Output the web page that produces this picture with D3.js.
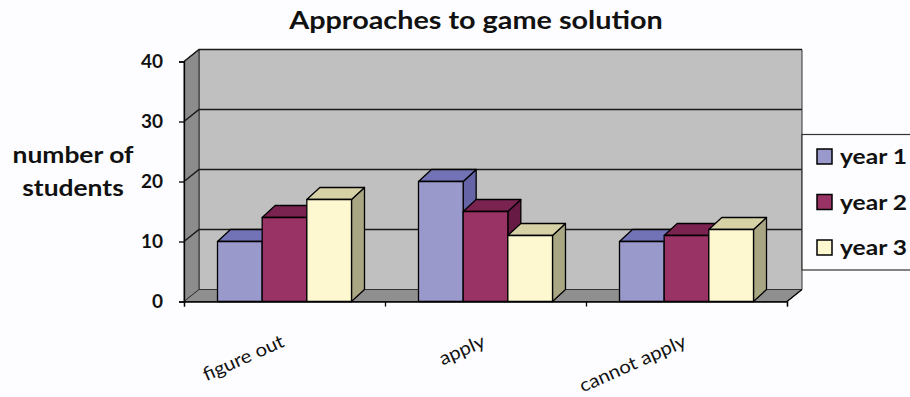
<!DOCTYPE html>
<html>
<head>
<meta charset="utf-8">
<script src="https://cdn.jsdelivr.net/npm/d3@7"></script>
<style>
  body { margin: 0; background: #fdfdff; }
  svg { display: block; }
  text { font-family: Lato, "Open Sans", sans-serif; fill: #111; }
</style>
</head>
<body>
<div id="chart"></div>
<script>
// chart data
const categories = ["figure out", "apply", "cannot apply"];
const seriesNames = ["year 1", "year 2", "year 3"];
const year1 = [10, 20, 10];
const year2 = [14, 15, 11];
const year3 = [17, 11, 12];
const yTicks = [0, 10, 20, 30, 40];

const seriesValues = [year1, year2, year3];
const colors = [
  { front: "#9999cc", top: "#7272b6", side: "#6464a6" },
  { front: "#993366", top: "#7a2250", side: "#661a44" },
  { front: "#fdf8d0", top: "#d6d2a6", side: "#a9a783" }
];

const width = 910, height = 397;
// text in this chart is set a little wide
const stretch = 1.2;

const svg = d3.select("#chart")
  .append("svg")
  .attr("width", width)
  .attr("height", height);

// scales
const x = d3.scaleBand().domain(categories).range([184, 787]);
const xs = d3.scaleBand().domain(seriesNames).range([0, x.bandwidth()]).paddingOuter(0.75);
const y = d3.scaleLinear().domain([0, 40]).range([301.5, 61.5]);

// depth offsets for walls and bars
const wdx = 15, wdy = -12;
const bdx = 13, bdy = -12;

const x0 = x.range()[0], x1 = x.range()[1];
const y0 = y(0), yTop = y(40);

const poly = pts => "M" + pts.map(p => p.join(",")).join("L") + "Z";

// walls and floor
const walls = svg.append("g");
walls.append("path")
  .attr("d", poly([[x0 + wdx, yTop + wdy], [x1 + wdx, yTop + wdy], [x1 + wdx, y0 + wdy], [x0 + wdx, y0 + wdy]]))
  .attr("fill", "#c0c0c0")
  .attr("stroke", "#333")
  .attr("stroke-width", 1);
walls.append("path")
  .attr("d", poly([[x0, yTop], [x0 + wdx, yTop + wdy], [x0 + wdx, y0 + wdy], [x0, y0]]))
  .attr("fill", "#8c8c8c")
  .attr("stroke", "#333")
  .attr("stroke-width", 1);
walls.append("path")
  .attr("d", poly([[x0, y0], [x0 + wdx, y0 + wdy], [x1 + wdx, y0 + wdy], [x1, y0]]))
  .attr("fill", "#8f8f8f")
  .attr("stroke", "#333")
  .attr("stroke-width", 1);

// gridlines on the back and side walls
const grid = svg.append("g")
  .attr("stroke", "#1a1a1a")
  .attr("stroke-width", 1.6)
  .attr("fill", "none");
grid.selectAll("path")
  .data(yTicks.filter(d => d > 0))
  .join("path")
  .attr("d", d => `M${x0},${y(d)}L${x0 + wdx},${y(d) + wdy}L${x1 + wdx},${y(d) + wdy}`);

// 3d bars
const bars = svg.append("g")
  .attr("stroke", "#000")
  .attr("stroke-width", 1.3)
  .attr("stroke-linejoin", "round");

categories.forEach((cat, ci) => {
  seriesNames.forEach((s, si) => {
    const v = seriesValues[si][ci];
    const bx0 = x(cat) + xs(s);
    const bx1 = bx0 + xs.bandwidth();
    const top = y(v);
    const g = bars.append("g");
    g.append("path")
      .attr("d", poly([[bx1, top], [bx1 + bdx, top + bdy], [bx1 + bdx, y0 + bdy], [bx1, y0]]))
      .attr("fill", colors[si].side);
    g.append("path")
      .attr("d", poly([[bx0, top], [bx0 + bdx, top + bdy], [bx1 + bdx, top + bdy], [bx1, top]]))
      .attr("fill", colors[si].top);
    g.append("rect")
      .attr("x", bx0)
      .attr("y", top)
      .attr("width", xs.bandwidth())
      .attr("height", y0 - top)
      .attr("fill", colors[si].front);
  });
});

// value axis
const yAxis = svg.append("g")
  .attr("transform", `translate(${x0},0)`)
  .call(d3.axisLeft(y).tickValues(yTicks).tickSize(5).tickPadding(16).tickFormat(d3.format("d")));
yAxis.select(".domain").attr("stroke", "#000").attr("stroke-width", 1.3);
yAxis.selectAll(".tick line").attr("stroke", "#000").attr("stroke-width", 1.3);
yAxis.selectAll(".tick text")
  .attr("font-family", "Lato, sans-serif")
  .attr("font-size", 19)
  .attr("font-weight", "bold")
  .attr("fill", "#222");

// category axis
const xAxis = svg.append("g")
  .attr("transform", `translate(0,${y0})`)
  .call(d3.axisBottom(d3.scaleLinear().domain([0, categories.length]).range([x0, x1]))
    .ticks(categories.length).tickSize(5).tickFormat(""));
xAxis.select(".domain").attr("stroke", "#000").attr("stroke-width", 1.3);
xAxis.selectAll(".tick line").attr("stroke", "#000").attr("stroke-width", 1.3);

// right edge of the floor
svg.append("path")
  .attr("d", `M${x1},${y0}L${x1 + wdx},${y0 + wdy}`)
  .attr("stroke", "#000")
  .attr("stroke-width", 1.3);

// rotated category labels
svg.append("g")
  .selectAll("text")
  .data(categories)
  .join("text")
  .attr("transform", d => `translate(${x(d) + x.bandwidth() / 2 + 1},346) rotate(-24) scale(1.1,1)`)
  .attr("text-anchor", "end")
  .attr("font-size", 18.5)
  .text(d => d);

// title
svg.append("text")
  .attr("transform", `translate(476,29) scale(${stretch},1)`)
  .attr("text-anchor", "middle")
  .attr("font-size", 24)
  .attr("font-weight", "bold")
  .text("Approaches to game solution");

// value axis title
const yTitle = svg.append("text")
  .attr("transform", `translate(73,0) scale(${stretch},1)`)
  .attr("text-anchor", "middle")
  .attr("font-size", 22)
  .attr("font-weight", "bold")
  .attr("fill", "#222");
yTitle.append("tspan").attr("x", 0).attr("y", 163).text("number of");
yTitle.append("tspan").attr("x", 0).attr("y", 196).text("students");

// legend
const legend = svg.append("g");
legend.append("rect")
  .attr("x", 802)
  .attr("y", 134.5)
  .attr("width", 120)
  .attr("height", 135.5)
  .attr("fill", "#fdfdff")
  .attr("stroke", "#333")
  .attr("stroke-width", 1.2);
const legendY = d3.scalePoint().domain(seriesNames).range([157, 248]);
const item = legend.selectAll("g.item")
  .data(seriesNames)
  .join("g")
  .attr("class", "item")
  .attr("transform", d => `translate(0,${legendY(d)})`);
item.append("rect")
  .attr("x", 817)
  .attr("y", -8)
  .attr("width", 15)
  .attr("height", 15)
  .attr("fill", (d, i) => colors[i].front)
  .attr("stroke", "#000")
  .attr("stroke-width", 1.5);
item.append("text")
  .attr("transform", "translate(840,7) scale(1.17,1)")
  .attr("font-size", 21)
  .attr("font-weight", "bold")
  .attr("fill", "#222")
  .text(d => d);
</script>
</body>
</html>
